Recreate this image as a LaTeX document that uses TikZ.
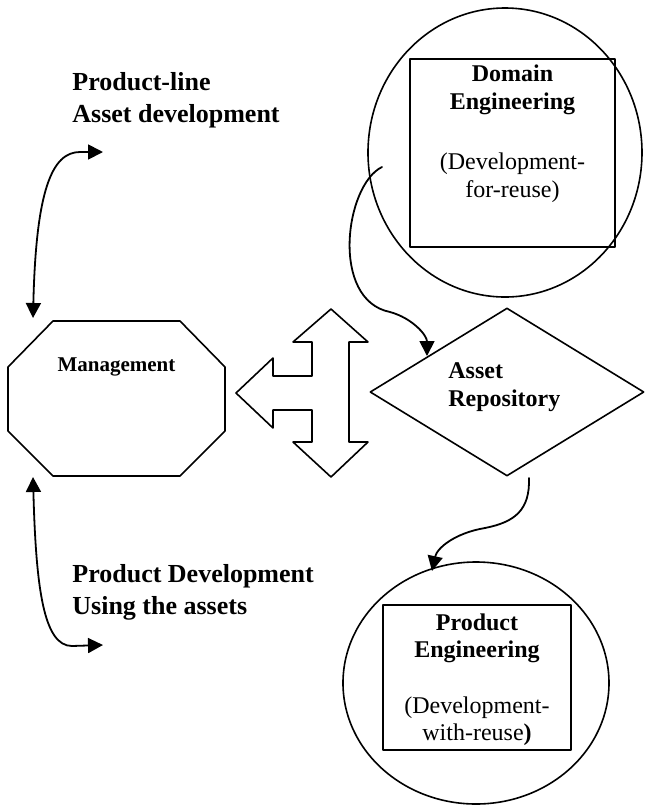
\documentclass[tikz,border=0pt]{standalone}
\usepackage{fontspec}
\setmainfont{Liberation Serif}
\usetikzlibrary{arrows.meta}
\usetikzlibrary{shapes.geometric}
\usetikzlibrary{positioning}

\tikzset{
  >={Triangle[length=7.5pt,width=7.5pt]},
  outl/.style={draw=black,line width=0.8pt},
  conn/.style={line width=0.9pt},
  sidelbl/.style={inner sep=0pt,align=left,font=\fontsize{13pt}{16pt}\selectfont\bfseries},
  boxtext/.style={inner sep=0pt,align=center,font=\fontsize{12pt}{14pt}\selectfont},
  repolbl/.style={inner sep=0pt,align=left,font=\fontsize{12pt}{14pt}\selectfont\bfseries}
}

\begin{document}
\begin{tikzpicture}[line cap=round,line join=round,x=0.5pt,y=-0.5pt]
\useasboundingbox (0,0) rectangle (653,805);

% side labels (base = last line)
\node[sidelbl,anchor=base west] (pltxt) at (72,122) {Product-line\\Asset development};
\node[sidelbl,anchor=base west] (pdtxt) at (72,614) {Product Development\\Using the assets};
\coordinate (plend) at (103,152);
\coordinate (pdend) at (103,645);

% management
\draw[outl] (53,321) -- (180,321) -- (225,367) -- (225,431) -- (180,476)
  -- (53,476) -- (8,431) -- (8,367) -- cycle;
\node[anchor=base,inner sep=0pt,font=\fontsize{10.5pt}{12pt}\selectfont\bfseries] (mgtxt) at (116.5,371) {Management};
\coordinate (mgtop) at (33,318);
\coordinate (mgbot) at (33,477);

\draw[conn,<->] (plend) -- (80,152) .. controls (52,152) and (36,190) .. (mgtop);
\draw[conn,<->] (mgbot) .. controls (36,590) and (44,646) .. (72,646) -- (pdend);

% three-way arrow
\draw[outl] (236,393) -- (273,358) -- (273,376) -- (312,376) -- (312,342)
  -- (293,342) -- (331,309) -- (368,342) -- (349,342) -- (349,442)
  -- (368,442) -- (331,477) -- (293,442) -- (312,442) -- (312,410)
  -- (273,410) -- (273,428) -- cycle;

% domain engineering
\node[ellipse,outl,minimum width=137pt,minimum height=144.5pt] (domcirc) at (505,152.5) {};
\node[rectangle,outl,minimum width=102.5pt,minimum height=94pt] (dombox) at (512.5,153) {};
\node[boxtext,anchor=base] (domtxt) at (512.5,197) {\textbf{Domain}\\\textbf{Engineering}\\[16pt](Development-\\for-reuse)};
\coordinate (domout) at (382,167);

% asset repository
\node[diamond,outl,inner sep=0pt,minimum width=137pt,minimum height=84pt] (repo) at (507,392) {};
\node[repolbl,anchor=base west] (repotxt) at (448,406) {Asset\\Repository};
\coordinate (repoin) at (427,356);
\coordinate (repoout) at (529,478);

% product engineering
\node[ellipse,outl,minimum width=133pt,minimum height=121pt] (prodcirc) at (476,683) {};
\node[rectangle,outl,minimum width=94pt,minimum height=72.5pt] (prodbox) at (477,677.5) {};
\node[boxtext,anchor=base,font=\fontsize{12pt}{13.5pt}\selectfont] (prodtxt) at (477,740) {\textbf{Product}\\\textbf{Engineering}\\[14.5pt](Development-\\with-reuse\textbf{)}};
\coordinate (prodin) at (432,571);

\draw[conn,->] (domout) .. controls (345,185) and (330,300) .. (390,312)
  .. controls (412,318) and (427,335) .. (repoin);
\draw[conn,->] (repoout) .. controls (530,510) and (515,522) .. (485,528)
  .. controls (455,533) and (437,548) .. (prodin);
\end{tikzpicture}
\end{document}
